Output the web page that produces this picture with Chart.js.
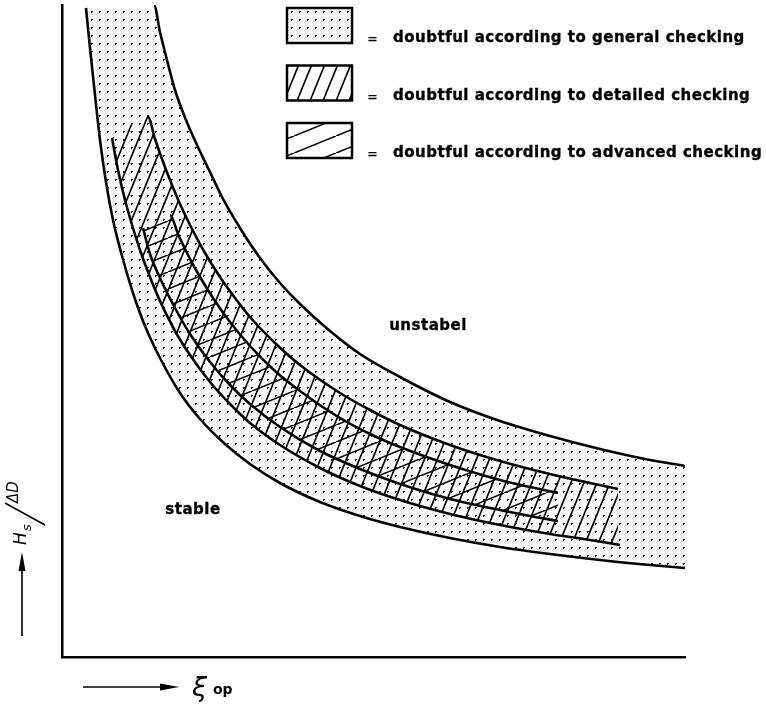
<!DOCTYPE html>
<html>
<head>
<meta charset="utf-8">
<title>Stability diagram</title>
<script src="https://cdn.jsdelivr.net/npm/chart.js@4.4.1/dist/chart.umd.min.js"></script>
<style>
  html, body { margin: 0; padding: 0; background: #fff; }
  #wrap { width: 766px; height: 704px; }
</style>
</head>
<body>
<div id="wrap"><canvas id="c" width="766" height="704"></canvas></div>
<script>
// Boundary curves, ξop (x) against Hs/ΔD (y), in arbitrary plot units.
const generalLower = [[24,649],[28,609],[33,562],[38,517],[44,475],[51,437],[60,401],[71,364],[83,331],[98,299],[118,264],[138,238],[163,213],[188,193],[218,174],[258,155],[298,141],[338,130],[388,119],[438,110],[488,103],[538,97],[588,92],[623,89]];
const generalUpper = [[92,652],[98,625],[105,597],[113,567],[124,537],[135,512],[148,485],[160,460],[178,429],[198,399],[218,374],[238,353],[268,326],[298,303],[338,280],[388,255],[438,236],[488,221],[538,208],[588,197],[623,191]];
const detailedLower = [[50,519],[56,487],[63,457],[71,429],[78,407],[88,380],[98,356],[113,326],[128,302],[148,275],[168,253],[188,234],[218,212],[258,189],[298,171],[338,157],[388,143],[438,132],[488,123],[528,117],[558,112]];
const detailedUpper = [[86,540],[93,518],[100,498],[108,477],[118,453],[128,432],[143,404],[158,380],[173,359],[188,340],[213,314],[238,292],[278,264],[308,247],[338,232],[388,212],[438,196],[488,183],[528,174],[556,168]];
const advancedLower = [[81,429],[88,403],[98,379],[113,349],[128,323],[148,295],[168,272],[188,253],[218,230],[258,206],[298,188],[338,173],[388,158],[438,147],[468,141],[496,136]];
const advancedUpper = [[108,442],[116,423],[126,402],[138,380],[153,356],[168,335],[188,311],[213,286],[238,266],[278,239],[308,223],[338,210],[388,192],[438,177],[468,170],[496,164]];

const legendLabels = [
  'doubtful according to general checking',
  'doubtful according to detailed checking',
  'doubtful according to advanced checking'
];
const regionLabels = ['unstabel', 'stable'];

// ---- fill patterns ----
function makeTile(w, h, draw) {
  const c = document.createElement('canvas');
  c.width = w; c.height = h;
  const g = c.getContext('2d');
  draw(g, w, h);
  return g.createPattern(c, 'repeat');
}
const dots = makeTile(8, 8, (g) => {
  g.fillStyle = '#000';
  g.fillRect(3, 3, 2, 2);
  g.clearRect(4, 4, 1, 1);
});
function slantTile(w, h, lw) {
  return makeTile(w, h, (g) => {
    g.strokeStyle = '#000';
    g.lineWidth = lw;
    g.beginPath();
    for (const k of [-1, 0, 1]) {
      g.moveTo(k * w, h);
      g.lineTo(k * w + w, 0);
    }
    g.stroke();
  });
}
const hatchDetailed = slantTile(13, 32, 1.6);
const hatchAdvanced = slantTile(42, 17, 1.6);

const pts = (a) => a.map(([x, y]) => ({ x, y }));
// upper edge of a band starts at the lower edge's first point; that closing piece is not stroked
const bandEdge = (lower, upper) => pts([lower[0], ...upper]);
const hideFirst = { borderColor: (c) => (c.p0DataIndex === 0 ? 'rgba(0,0,0,0)' : undefined) };

const lineStyle = {
  borderColor: '#000',
  borderWidth: 2.6,
  borderCapStyle: 'butt',
  pointRadius: 0,
  pointHoverRadius: 0,
  cubicInterpolationMode: 'monotone'
};

const datasets = [
  { ...lineStyle, label: 'general lower', data: pts(generalLower), fill: false },
  { ...lineStyle, label: 'general', data: bandEdge(generalLower, generalUpper), segment: hideFirst,
    fill: { target: 0 }, backgroundColor: dots },
  { ...lineStyle, label: 'detailed lower', data: pts(detailedLower), fill: false },
  { ...lineStyle, label: 'detailed', data: bandEdge(detailedLower, detailedUpper), segment: hideFirst,
    fill: { target: 2 }, backgroundColor: hatchDetailed },
  { ...lineStyle, label: 'advanced lower', data: pts(advancedLower), fill: false },
  { ...lineStyle, label: 'advanced', data: bandEdge(advancedLower, advancedUpper), segment: hideFirst,
    fill: { target: 4 }, backgroundColor: hatchAdvanced }
];

const FONT = '"DejaVu Sans", "Liberation Sans", sans-serif';

function arrowHead(ctx, tipX, tipY, dx, dy, len, half) {
  // dx,dy: unit direction of the arrow
  const bx = tipX - dx * len, by = tipY - dy * len;
  ctx.beginPath();
  ctx.moveTo(tipX, tipY);
  ctx.lineTo(bx - dy * half, by + dx * half);
  ctx.lineTo(bx + dy * half, by - dx * half);
  ctx.closePath();
  ctx.fill();
}

// bold text with a thin outline so the strokes read heavier
function heavyText(ctx, text, x, y) {
  ctx.fillText(text, x, y);
  ctx.lineWidth = 0.35;
  ctx.strokeText(text, x, y);
}

const annotations = {
  id: 'annotations',
  afterDraw(chart) {
    const ctx = chart.ctx;
    const xs = chart.scales.x, ys = chart.scales.y;
    ctx.save();
    ctx.fillStyle = '#000';
    ctx.strokeStyle = '#000';

    // legend: pattern swatches with their meaning
    const swatches = [dots, hatchDetailed, hatchAdvanced];
    legendLabels.forEach((text, i) => {
      const top = 8 + i * 57.5;
      ctx.fillStyle = '#fff';
      ctx.fillRect(287, top, 65, 35);
      ctx.fillStyle = swatches[i];
      ctx.fillRect(287, top, 65, 35);
      ctx.lineWidth = 2.5;
      ctx.strokeRect(287, top, 65, 35);
      ctx.fillStyle = '#000';
      ctx.textBaseline = 'alphabetic';
      ctx.textAlign = 'left';
      ctx.font = 'bold 13px ' + FONT;
      ctx.fillText('=', 367, top + 35);
      ctx.font = 'bold 15px ' + FONT;
      ctx.letterSpacing = '0.5px';
      heavyText(ctx, text, 393, top + 34);
      ctx.letterSpacing = '0px';
    });

    // region names
    ctx.font = 'bold 15px ' + FONT;
    ctx.letterSpacing = '0.5px';
    ctx.textAlign = 'center';
    ctx.textBaseline = 'middle';
    heavyText(ctx, regionLabels[0], xs.getPixelForValue(366), ys.getPixelForValue(331));
    heavyText(ctx, regionLabels[1], xs.getPixelForValue(131), ys.getPixelForValue(147));
    ctx.letterSpacing = '0px';

    // x axis: arrow and ξop
    ctx.lineWidth = 1.6;
    ctx.beginPath();
    ctx.moveTo(83, 687);
    ctx.lineTo(165, 687);
    ctx.stroke();
    arrowHead(ctx, 179, 687, 1, 0, 19, 3.5);
    ctx.textAlign = 'left';
    ctx.textBaseline = 'alphabetic';
    ctx.font = 'italic 27px ' + FONT;
    ctx.fillText('ξ', 192, 696);
    ctx.font = 'bold 14px ' + FONT;
    ctx.fillText('op', 213, 694);

    // y axis: arrow and Hs/ΔD
    ctx.lineWidth = 1.6;
    ctx.beginPath();
    ctx.moveTo(22, 636);
    ctx.lineTo(22, 566);
    ctx.stroke();
    arrowHead(ctx, 22, 552, 0, -1, 19, 3.5);

    ctx.translate(25, 513);
    ctx.rotate(-Math.PI / 2);
    ctx.font = 'italic 17px ' + FONT;
    ctx.fillText('H', -32, 1);
    ctx.font = 'italic 13px ' + FONT;
    ctx.fillText('s', -18, 6);
    ctx.lineWidth = 1.6;
    ctx.beginPath();
    ctx.moveTo(-12, 20);
    ctx.lineTo(10, -20);
    ctx.stroke();
    ctx.font = 'italic 15px ' + FONT;
    ctx.fillText('ΔD', 10, -7);
    ctx.restore();
  }
};

new Chart(document.getElementById('c'), {
  type: 'line',
  data: { datasets },
  options: {
    responsive: false,
    animation: false,
    devicePixelRatio: 1,
    layout: { padding: { left: 62, top: 5, right: 81, bottom: 47 } },
    plugins: { legend: { display: false }, tooltip: { enabled: false } },
    events: [],
    scales: {
      x: {
        type: 'linear', min: 0, max: 623,
        grid: { display: false, drawTicks: false },
        ticks: { display: false },
        border: { display: true, color: '#000', width: 2.5 }
      },
      y: {
        type: 'linear', min: 0, max: 652,
        grid: { display: false, drawTicks: false },
        ticks: { display: false },
        border: { display: true, color: '#000', width: 2.5 }
      }
    }
  },
  plugins: [annotations]
});
</script>
</body>
</html>
